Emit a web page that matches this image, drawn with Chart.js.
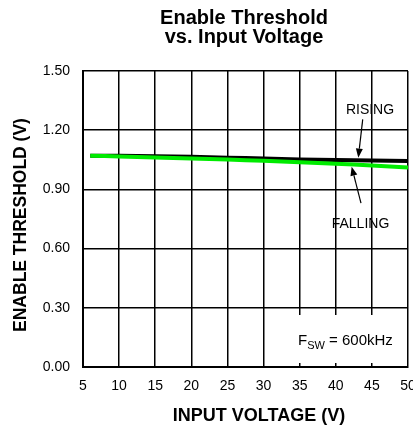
<!DOCTYPE html>
<html>
<head>
<meta charset="utf-8">
<script src="https://cdn.jsdelivr.net/npm/chart.js@4/dist/chart.umd.min.js"></script>
<style>
	body { margin: 0; background: #fff; }
	#wrap { width: 413px; height: 425px; }
</style>
</head>
<body>
<div id="wrap"><canvas id="myChart" width="413" height="425"></canvas></div>
<script>
// data
var inputVoltage = [6, 10, 15, 20, 25, 30, 35, 40, 45, 50];
var rising = [1.071, 1.070, 1.068, 1.065, 1.061, 1.056, 1.052, 1.049, 1.046, 1.044];
var falling = [1.071, 1.067, 1.062, 1.057, 1.051, 1.045, 1.038, 1.030, 1.021, 1.011];
var xTicks = [5, 10, 15, 20, 25, 30, 35, 40, 45, 50];
var yTicks = [0, 0.3, 0.6, 0.9, 1.2, 1.5];

var FONT = '"Liberation Sans", Arial, sans-serif';

let toPoints = function (xs, ys) {
	return xs.map(function (x, i) { return {x: x, y: ys[i]}; });
}

// arrow from (x0,y0) to tip (x1,y1), in data units
let arrow = function (ctx, xs, ys, x0, y0, x1, y1) {
	var ax = xs.getPixelForValue(x0), ay = ys.getPixelForValue(y0);
	var bx = xs.getPixelForValue(x1), by = ys.getPixelForValue(y1);
	var ang = Math.atan2(by - ay, bx - ax);
	var len = 9, hw = 3.5;
	ctx.strokeStyle = '#000';
	ctx.lineWidth = 1.2;
	ctx.beginPath();
	ctx.moveTo(ax, ay);
	ctx.lineTo(bx - Math.cos(ang) * len, by - Math.sin(ang) * len);
	ctx.stroke();
	ctx.fillStyle = '#000';
	ctx.beginPath();
	ctx.moveTo(bx, by);
	ctx.lineTo(bx - Math.cos(ang) * len - Math.sin(ang) * hw, by - Math.sin(ang) * len + Math.cos(ang) * hw);
	ctx.lineTo(bx - Math.cos(ang) * len + Math.sin(ang) * hw, by - Math.sin(ang) * len - Math.cos(ang) * hw);
	ctx.closePath();
	ctx.fill();
}

var labelBox = {
	id: 'labelBox',
	beforeDatasetsDraw: function (chart) {
		// white patch behind the Fsw note
		var ctx = chart.ctx;
		ctx.save();
		ctx.fillStyle = '#fff';
		ctx.fillRect(290, 315, 114, 48);
		ctx.restore();
	},
	afterDraw: function (chart) {
		var ctx = chart.ctx;
		var xs = chart.scales.x, ys = chart.scales.y;
		ctx.save();
		ctx.fillStyle = '#000';
		ctx.textAlign = 'center';
		ctx.textBaseline = 'alphabetic';

		// title
		ctx.font = 'bold 20px ' + FONT;
		ctx.fillText('Enable Threshold', 244, 24);
		ctx.fillText('vs. Input Voltage', 244, 43);

		// axis titles
		ctx.font = 'bold 18px ' + FONT;
		ctx.fillText('INPUT VOLTAGE (V)', 259, 421);
		ctx.save();
		ctx.translate(25.5, 225);
		ctx.rotate(-Math.PI / 2);
		ctx.font = 'bold 17.5px ' + FONT;
		ctx.fillText('ENABLE THRESHOLD (V)', 0, 0);
		ctx.restore();

		// curve labels
		ctx.font = '14px ' + FONT;
		ctx.fillText('RISING', xs.getPixelForValue(44.74), ys.getPixelForValue(1.307) + 5);
		ctx.fillText('FALLING', xs.getPixelForValue(43.42), ys.getPixelForValue(0.730) + 5);
		arrow(ctx, xs, ys, 43.73, 1.255, 43.12, 1.061);
		arrow(ctx, xs, ys, 43.49, 0.830, 42.2, 1.015);

		// Fsw note
		ctx.textAlign = 'left';
		ctx.font = '15px ' + FONT;
		ctx.fillText('F', 298, 345);
		var w = ctx.measureText('F').width;
		ctx.font = '11px ' + FONT;
		ctx.fillText('SW', 298 + w, 349);
		w += ctx.measureText('SW').width;
		ctx.font = '15px ' + FONT;
		ctx.fillText(' = 600kHz', 298 + w, 345);
		ctx.restore();
	}
};

var ctx = document.getElementById("myChart").getContext('2d');
var myChart = new Chart(ctx, {
	type: 'line',
	data: {
		datasets: [{
			label: 'RISING',
			data: toPoints(inputVoltage, rising),
			borderColor: '#000000',
			borderWidth: 4,
			pointRadius: 0,
			tension: 0.3,
			order: 1
		}, {
			label: 'FALLING',
			data: toPoints(inputVoltage, falling),
			borderColor: 'rgb(0,235,0)',
			borderWidth: 4,
			pointRadius: 0,
			tension: 0.3,
			order: 0
		}]
	},
	options: {
		responsive: false,
		animation: false,
		devicePixelRatio: 1,
		layout: { padding: { top: 71, right: 5, left: 0, bottom: 0 } },
		plugins: {
			legend: { display: false },
			title: { display: false },
			tooltip: { enabled: false }
		},
		scales: {
			x: {
				type: 'linear',
				min: 5,
				max: 50,
				afterBuildTicks: function (s) { s.ticks = xTicks.map(function (v) { return {value: v}; }); },
				afterFit: function (s) { s.height = 58; s.paddingLeft = 0; s.paddingRight = 0; },
				grid: { color: '#000', lineWidth: 1.5, drawTicks: false },
				border: { color: '#000', width: 2 },
				ticks: { color: '#000', font: { family: FONT, size: 14 }, padding: 11, maxRotation: 0, autoSkip: false }
			},
			y: {
				min: 0,
				max: 1.5,
				afterBuildTicks: function (s) { s.ticks = yTicks.map(function (v) { return {value: v}; }); },
				afterFit: function (s) { s.width = 83; s.paddingTop = 0; s.paddingBottom = 0; },
				grid: { color: '#000', lineWidth: 1.5, drawTicks: false },
				border: { color: '#000', width: 2 },
				ticks: {
					color: '#000', font: { family: FONT, size: 14 }, padding: 13,
					callback: function (v) { return Number(v).toFixed(2); }
				}
			}
		}
	},
	plugins: [labelBox]
});
</script>
</body>
</html>
